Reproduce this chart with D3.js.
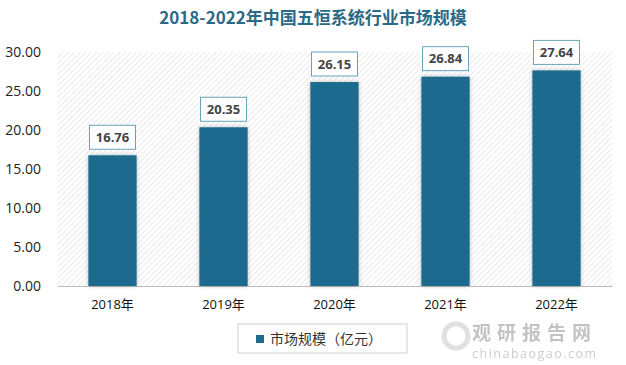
<!DOCTYPE html>
<html><head><meta charset="utf-8">
<script src="https://cdn.jsdelivr.net/npm/d3@7"></script>
<style>body{margin:0;background:#fff;}svg{display:block;}</style>
</head><body>
<svg id="c" width="626" height="365"></svg>
<script>
const categories = ["2018年","2019年","2020年","2021年","2022年"];
const values = [16.76, 20.35, 26.15, 26.84, 27.64];
const yTicks = [0,5,10,15,20,25,30];
const title = "2018-2022年中国五恒系统行业市场规模";
const seriesName = "市场规模（亿元）";

const svg = d3.select("#c");
const m = {l:57, r:14, t:52, b:79};
const W = 626, H = 365;
const iw = W - m.l - m.r, ih = H - m.t - m.b;

const defs = svg.append("defs");
const pat = defs.append("pattern").attr("id","hatch").attr("patternUnits","userSpaceOnUse")
  .attr("width",4).attr("height",4).attr("patternTransform","rotate(45)");
pat.append("rect").attr("width",4).attr("height",4).attr("fill","#fff");
pat.append("line").attr("x1",0).attr("y1",0).attr("x2",0).attr("y2",4).attr("stroke","#dcdcdc").attr("stroke-width",1.2);
const f = defs.append("filter").attr("id","sh").attr("x","-20%").attr("y","-20%").attr("width","140%").attr("height","140%");
f.append("feDropShadow").attr("dx",0).attr("dy",0).attr("stdDeviation",2).attr("flood-color","#000").attr("flood-opacity",0.25);

svg.append("text").attr("x",313).attr("y",24).attr("text-anchor","middle")
  .attr("font-family","'Noto Sans CJK SC',sans-serif").attr("font-weight","bold")
  .attr("font-size",17).attr("fill","#2b6a86").text(title);

const g = svg.append("g").attr("transform",`translate(${m.l},${m.t})`);
const x = d3.scaleBand().domain(categories).range([0,iw]).paddingInner(0.565).paddingOuter(0.2825);
const y = d3.scaleLinear().domain([0,30]).range([ih,0]);

g.append("rect").attr("width",iw).attr("height",ih).attr("fill","url(#hatch)");

const ya = g.append("g").call(d3.axisLeft(y).tickValues(yTicks).tickFormat(d3.format(".2f")).tickSize(0).tickPadding(16));
ya.select(".domain").remove();
ya.selectAll("text").attr("font-family","'Open Sans','DejaVu Sans',sans-serif").attr("font-size",14).attr("fill","#222");

const xa = g.append("g").attr("transform",`translate(0,${ih})`).call(d3.axisBottom(x).tickSize(0).tickPadding(14));
xa.select(".domain").attr("stroke","#bbb");
xa.selectAll("text").attr("font-family","'Open Sans','Noto Sans CJK SC',sans-serif").attr("font-size",13).attr("fill","#111");

const data = categories.map((c,i)=>({c, v:values[i]}));
g.selectAll(".bar").data(data).join("rect").attr("class","bar")
  .attr("x",d=>x(d.c)).attr("y",d=>y(d.v)).attr("width",x.bandwidth()).attr("height",d=>ih-y(d.v))
  .attr("fill","#1d6b8d").attr("filter","url(#sh)");

const lb = g.selectAll(".lb").data(data).join("g").attr("class","lb")
  .attr("transform",d=>`translate(${x(d.c)+x.bandwidth()/2},${y(d.v)-18})`);
lb.append("rect").attr("x",-23).attr("y",-12).attr("width",46).attr("height",24)
  .attr("fill","#fff").attr("stroke","#6aa3b8").attr("stroke-width",1);
lb.append("text").attr("text-anchor","middle").attr("dy","0.36em")
  .attr("font-family","'Open Sans','DejaVu Sans',sans-serif").attr("font-weight","bold")
  .attr("font-size",13).attr("fill","#444").text(d=>d.v.toFixed(2));

// watermark
const wm = svg.append("g").attr("opacity",0.5);
wm.append("circle").attr("cx",456).attr("cy",336).attr("r",12).attr("fill","none").attr("stroke","#c4c4c4").attr("stroke-width",5);
wm.append("text").attr("x",472).attr("y",340).attr("font-family","'Noto Sans CJK SC',sans-serif")
  .attr("font-weight","bold").attr("font-size",19).attr("fill","#888").attr("letter-spacing",6).text("观研报告网");
wm.append("text").attr("x",472).attr("y",358).attr("font-family","'Open Sans',sans-serif")
  .attr("font-size",12.5).attr("fill","#999").attr("letter-spacing",1.5).text("chinabaogao.com");

// legend
const lg = svg.append("g").attr("transform","translate(238,324)");
lg.append("rect").attr("width",169).attr("height",29).attr("fill","#fff").attr("stroke","#d0d0d0");
lg.append("rect").attr("x",18).attr("y",11).attr("width",8).attr("height",8).attr("fill","#1d6b8d");
lg.append("text").attr("x",32).attr("y",15).attr("dy","0.36em")
  .attr("font-family","'Noto Sans CJK SC',sans-serif").attr("font-size",14).attr("fill","#333").text(seriesName);
</script>
</body></html>
